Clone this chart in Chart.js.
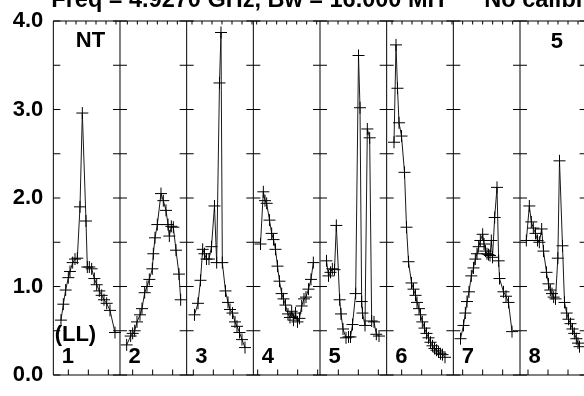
<!DOCTYPE html>
<html>
<head>
<meta charset="utf-8">
<script src="https://cdn.jsdelivr.net/npm/chart.js@4"></script>
<style>
  html, body { margin: 0; padding: 0; background: #fff; overflow: hidden; }
  #wrap { width: 600px; height: 396px; }
</style>
</head>
<body>
<div id="wrap"><canvas id="vplot" width="600" height="396"></canvas></div>
<script>
// scan numbers shown under each panel
const panelNames = ["1", "2", "3", "4", "5", "6", "7", "8"];
const panelSpan = 100; // x units per panel

// x = position inside the panel (0-100), y = amplitude
const p1x = [11.5, 15, 18.5, 22.5, 25, 29, 32.5, 36, 40, 43.5, 49, 51, 54, 57.5, 61.5, 65, 69, 72.5, 76, 80, 85, 92.5];
const p1y = [0.62, 0.80, 0.96, 1.10, 1.17, 1.27, 1.31, 1.32, 1.90, 2.96, 1.74, 1.22, 1.22, 1.20, 1.09, 1.02, 0.95, 0.90, 0.85, 0.81, 0.73, 0.48];

const p2x = [10, 16, 19, 22, 25.5, 30, 33, 37, 40.5, 44, 48.5, 50, 52.5, 56, 61.5, 65, 69, 72, 74, 77, 80, 84, 88.5, 91];
const p2y = [0.34, 0.44, 0.47, 0.50, 0.60, 0.68, 0.75, 0.93, 1.00, 1.08, 1.20, 1.37, 1.55, 1.70, 2.05, 1.97, 1.86, 1.70, 1.57, 1.68, 1.67, 1.41, 1.14, 0.85];

const p3x = [11.75, 17, 20.75, 24, 26.75, 29.75, 33.5, 37.25, 41.75, 45, 49.25, 51.5, 53.5, 58.25, 62, 65, 68.75, 72.5, 75.5, 79.25, 83, 87.5];
const p3y = [0.68, 0.81, 1.07, 1.42, 1.37, 1.31, 1.31, 1.45, 1.91, 1.27, 3.30, 3.87, 1.27, 0.95, 0.82, 0.74, 0.70, 0.60, 0.55, 0.48, 0.40, 0.31];

const p4x = [10.75, 15, 17.5, 20, 24.25, 27.5, 30.25, 33.25, 36.25, 39.25, 42.5, 45.25, 48.25, 52, 55, 57.5, 60.25, 63.25, 66.25, 69.25, 72.5, 76, 79, 82.75, 86.5, 90];
const p4y = [1.48, 2.07, 1.97, 1.94, 1.75, 1.60, 1.53, 1.42, 1.23, 1.06, 0.92, 0.86, 0.79, 0.69, 0.65, 0.72, 0.62, 0.70, 0.60, 0.64, 0.78, 0.86, 0.88, 0.97, 1.08, 1.27];

const p5x = [9.75, 12.75, 15.75, 18.5, 21.75, 24.5, 29.5, 31.5, 34.5, 39, 42.75, 45.75, 48.75, 53.5, 57.75, 60, 62.5, 63.75, 67.5, 71, 74.5, 77.5, 81, 84.5, 88.5];
const p5y = [1.29, 1.12, 1.16, 1.20, 1.19, 1.69, 0.85, 0.69, 0.52, 0.42, 0.43, 0.43, 0.57, 0.92, 3.61, 3.02, 0.83, 0.70, 0.56, 2.78, 2.68, 0.61, 0.60, 0.46, 0.44];

const p6x = [11, 14, 16.25, 18.5, 22.25, 26.75, 29.75, 32.75, 37.25, 40.25, 43.25, 45.5, 48.5, 50.75, 53.5, 56.75, 59.75, 62.75, 65.75, 68.75, 71.75, 74.75, 77.75, 80.75, 83.75, 87.5];
const p6y = [2.63, 3.73, 3.24, 2.85, 2.70, 2.29, 1.67, 1.28, 1.04, 0.97, 0.90, 0.82, 0.75, 0.68, 0.60, 0.53, 0.47, 0.42, 0.37, 0.33, 0.30, 0.28, 0.26, 0.24, 0.23, 0.20];

const p7x = [10.75, 15.25, 18, 20.5, 23.5, 27, 30.25, 33, 35.5, 38, 40.5, 44, 46, 48.25, 50.5, 52.75, 55, 57, 58.75, 62, 65.5, 68, 69.25, 75.25, 79, 82.75, 88];
const p7y = [0.41, 0.56, 0.70, 0.83, 0.94, 1.12, 1.21, 1.31, 1.37, 1.45, 1.52, 1.59, 1.48, 1.40, 1.37, 1.36, 1.35, 1.52, 1.33, 1.78, 2.12, 1.29, 1.09, 0.94, 0.89, 0.82, 0.49];

const p8x = [9.5, 14, 17, 20, 23.25, 26.25, 29, 32.5, 35.25, 39.75, 42.75, 45.5, 48, 50.5, 53.25, 56.75, 59.25, 63.75, 66.75, 70, 72.75, 75.75, 78.75, 81.5, 84.5, 87, 89.25];
const p8y = [1.52, 1.91, 1.73, 1.66, 1.60, 1.52, 1.50, 1.65, 1.40, 1.16, 1.03, 0.96, 0.92, 0.88, 0.86, 1.32, 2.42, 1.46, 0.82, 0.70, 0.63, 0.58, 0.52, 0.47, 0.41, 0.36, 0.32];

const panelX = [p1x, p2x, p3x, p4x, p5x, p6x, p7x, p8x];
const panelY = [p1y, p2y, p3y, p4y, p5y, p6y, p7y, p8y];

// first minor tick of each panel (bottom every 30, top every 15)
const bottomTickStart = [22.5, 19, 10, 6.5, 27.5, 22.5, 14, 12];
const topTickStart = [19, 11, 8, 5, 12, 8, 14, 12];

const titleText = "Freq = 4.9270 GHz, Bw = 16.000 MH";
const titleText2 = "No calibration";
const FONT = 'bold 22px "Liberation Sans", Arial, sans-serif';

const datasets = panelNames.map((name, i) => ({
  label: name,
  data: panelX[i].map((x, k) => ({ x: i * panelSpan + x, y: panelY[i][k] })),
  showLine: true,
  borderColor: "#1a1a1a",
  borderWidth: 1,
  pointStyle: "cross",
  pointRadius: 6,
  pointBorderColor: "#000",
  pointBorderWidth: 1,
  tension: 0
}));

const framePlugin = {
  id: "frame",
  beforeDatasetsDraw(chart) {
    const { ctx, chartArea: a, scales: { x, y } } = chart;
    ctx.save();
    ctx.strokeStyle = "#000";
    ctx.lineWidth = 1;
    ctx.beginPath();
    ctx.moveTo(a.left, a.bottom);
    ctx.lineTo(a.left, a.top);
    ctx.lineTo(a.right, a.top);
    ctx.moveTo(a.left, a.bottom);
    ctx.lineTo(a.right, a.bottom);

    const dividers = [];
    for (let i = 1; i <= panelNames.length; i++) {
      const px = x.getPixelForValue(i * panelSpan);
      dividers.push(px);
      ctx.moveTo(px, a.top);
      ctx.lineTo(px, a.bottom);
    }

    for (let v = y.min; v <= y.max + 1e-9; v += 0.5) {
      const py = y.getPixelForValue(v);
      ctx.moveTo(a.left, py);
      ctx.lineTo(a.left + 7, py);
      dividers.forEach(px => {
        ctx.moveTo(px - 7, py);
        ctx.lineTo(px + 7, py);
      });
    }

    panelNames.forEach((n, i) => {
      for (let t = bottomTickStart[i]; t < panelSpan; t += 30) {
        const px = x.getPixelForValue(i * panelSpan + t);
        ctx.moveTo(px, a.bottom);
        ctx.lineTo(px, a.bottom - 5.5);
      }
      for (let t = topTickStart[i]; t < panelSpan; t += 15) {
        const px = x.getPixelForValue(i * panelSpan + t);
        ctx.moveTo(px, a.top);
        ctx.lineTo(px, a.top + 3.5);
      }
    });
    ctx.stroke();
    ctx.restore();
  },
  afterDatasetsDraw(chart) {
    const { ctx, chartArea: a, scales: { x } } = chart;
    ctx.save();
    ctx.fillStyle = "#000";
    ctx.textBaseline = "alphabetic";
    ctx.textAlign = "left";
    ctx.font = FONT;
    panelNames.forEach((n, i) => {
      ctx.fillText(n, x.getPixelForValue(i * panelSpan) + 8.5, 363.3);
    });
    ctx.fillText("NT", a.left + 22.5, 46.8);
    ctx.fillText("(LL)", a.left + 1.3, 340.8);
    ctx.fillText("5", x.getPixelForValue(7 * panelSpan) + 30.8, 48);

    ctx.font = 'bold 23.5px "Liberation Sans", Arial, sans-serif';
    ctx.fillText(titleText, a.left - 2, 7);
    ctx.fillText(titleText2, a.left + 431, 7);
    ctx.restore();
  }
};

new Chart(document.getElementById("vplot"), {
  type: "scatter",
  data: { datasets },
  options: {
    responsive: false,
    devicePixelRatio: 1,
    animation: false,
    layout: { padding: { left: 0, top: 16, right: 13.33, bottom: 12.5 } },
    plugins: {
      legend: { display: false },
      tooltip: { enabled: false }
    },
    scales: {
      x: {
        type: "linear",
        display: false,
        min: 0,
        max: panelNames.length * panelSpan
      },
      y: {
        min: 0,
        max: 4,
        grid: { display: false, drawTicks: false },
        border: { display: false },
        ticks: {
          stepSize: 1,
          padding: 10,
          color: "#000",
          font: { family: '"Liberation Sans", Arial, sans-serif', size: 22, weight: "bold", lineHeight: 1 },
          callback: v => v.toFixed(1)
        },
        afterFit(scale) { scale.width = 53.33; }
      }
    }
  },
  plugins: [framePlugin]
});
</script>
</body>
</html>
